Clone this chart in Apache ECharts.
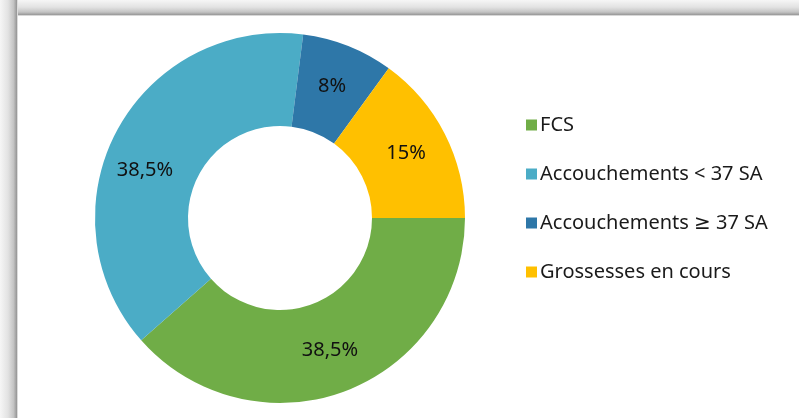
<!DOCTYPE html>
<html>
<head>
<meta charset="utf-8">
<script src="https://cdn.jsdelivr.net/npm/echarts@6/dist/echarts.min.js"></script>
<style>
  html, body { margin: 0; padding: 0; background: #fff; }
  #chart { width: 799px; height: 418px; }
</style>
</head>
<body>
<div id="chart"></div>
<script>
const categories = ['FCS', 'Accouchements < 37 SA', 'Accouchements ≥ 37 SA', 'Grossesses en cours'];
const values = [38.5, 38.5, 8, 15];
const colors = ['#70AD47', '#4BACC6', '#2E77A8', '#FFC000'];

const chart = echarts.init(document.getElementById('chart'), null, { renderer: 'canvas' });

const FONT = '"Noto Sans", "DejaVu Sans", sans-serif';

const data = categories.map((name, i) => {
  const item = { name: name, value: values[i], itemStyle: { color: colors[i] } };
  // Excel nudged the left label a bit lower
  if (i === 1) item.label = { offset: [-10, 19] };
  return item;
});

const edge = [
  { offset: 0, color: '#f6f6f6' },
  { offset: 0.45, color: '#e2e2e2' },
  { offset: 0.75, color: '#c4c4c4' },
  { offset: 0.92, color: '#9a9a9a' },
  { offset: 1, color: '#ffffff' }
];

const option = {
  animation: false,
  backgroundColor: '#fff',
  graphic: [
    // shadowed frame, top and left edges
    {
      type: 'rect', z: 0,
      shape: { x: 0, y: 0, width: 799, height: 16 },
      style: { fill: new echarts.graphic.LinearGradient(0, 0, 0, 1, edge) }
    },
    {
      type: 'rect', z: 0,
      shape: { x: 0, y: 0, width: 18, height: 418 },
      style: { fill: new echarts.graphic.LinearGradient(0, 0, 1, 0, edge) }
    }
  ],
  legend: {
    orient: 'vertical',
    left: 521,
    top: 110,
    itemWidth: 11,
    itemHeight: 11,
    itemGap: 29,
    icon: 'rect',
    data: categories,
    textStyle: { fontFamily: FONT, fontSize: 20, lineHeight: 20, color: '#1a1a1a', padding: [0, 0, 0, -2] }
  },
  series: [{
    type: 'pie',
    center: [280, 218],
    radius: [92, 185],
    startAngle: 0,
    clockwise: true,
    silent: true,
    data: data,
    label: {
      show: true,
      position: 'inside',
      fontFamily: FONT,
      fontSize: 20,
      color: '#111',
      formatter: p => String(p.value).replace('.', ',') + '%'
    },
    labelLine: { show: false },
    itemStyle: { borderWidth: 0 }
  }]
};

chart.setOption(option);
</script>
</body>
</html>
